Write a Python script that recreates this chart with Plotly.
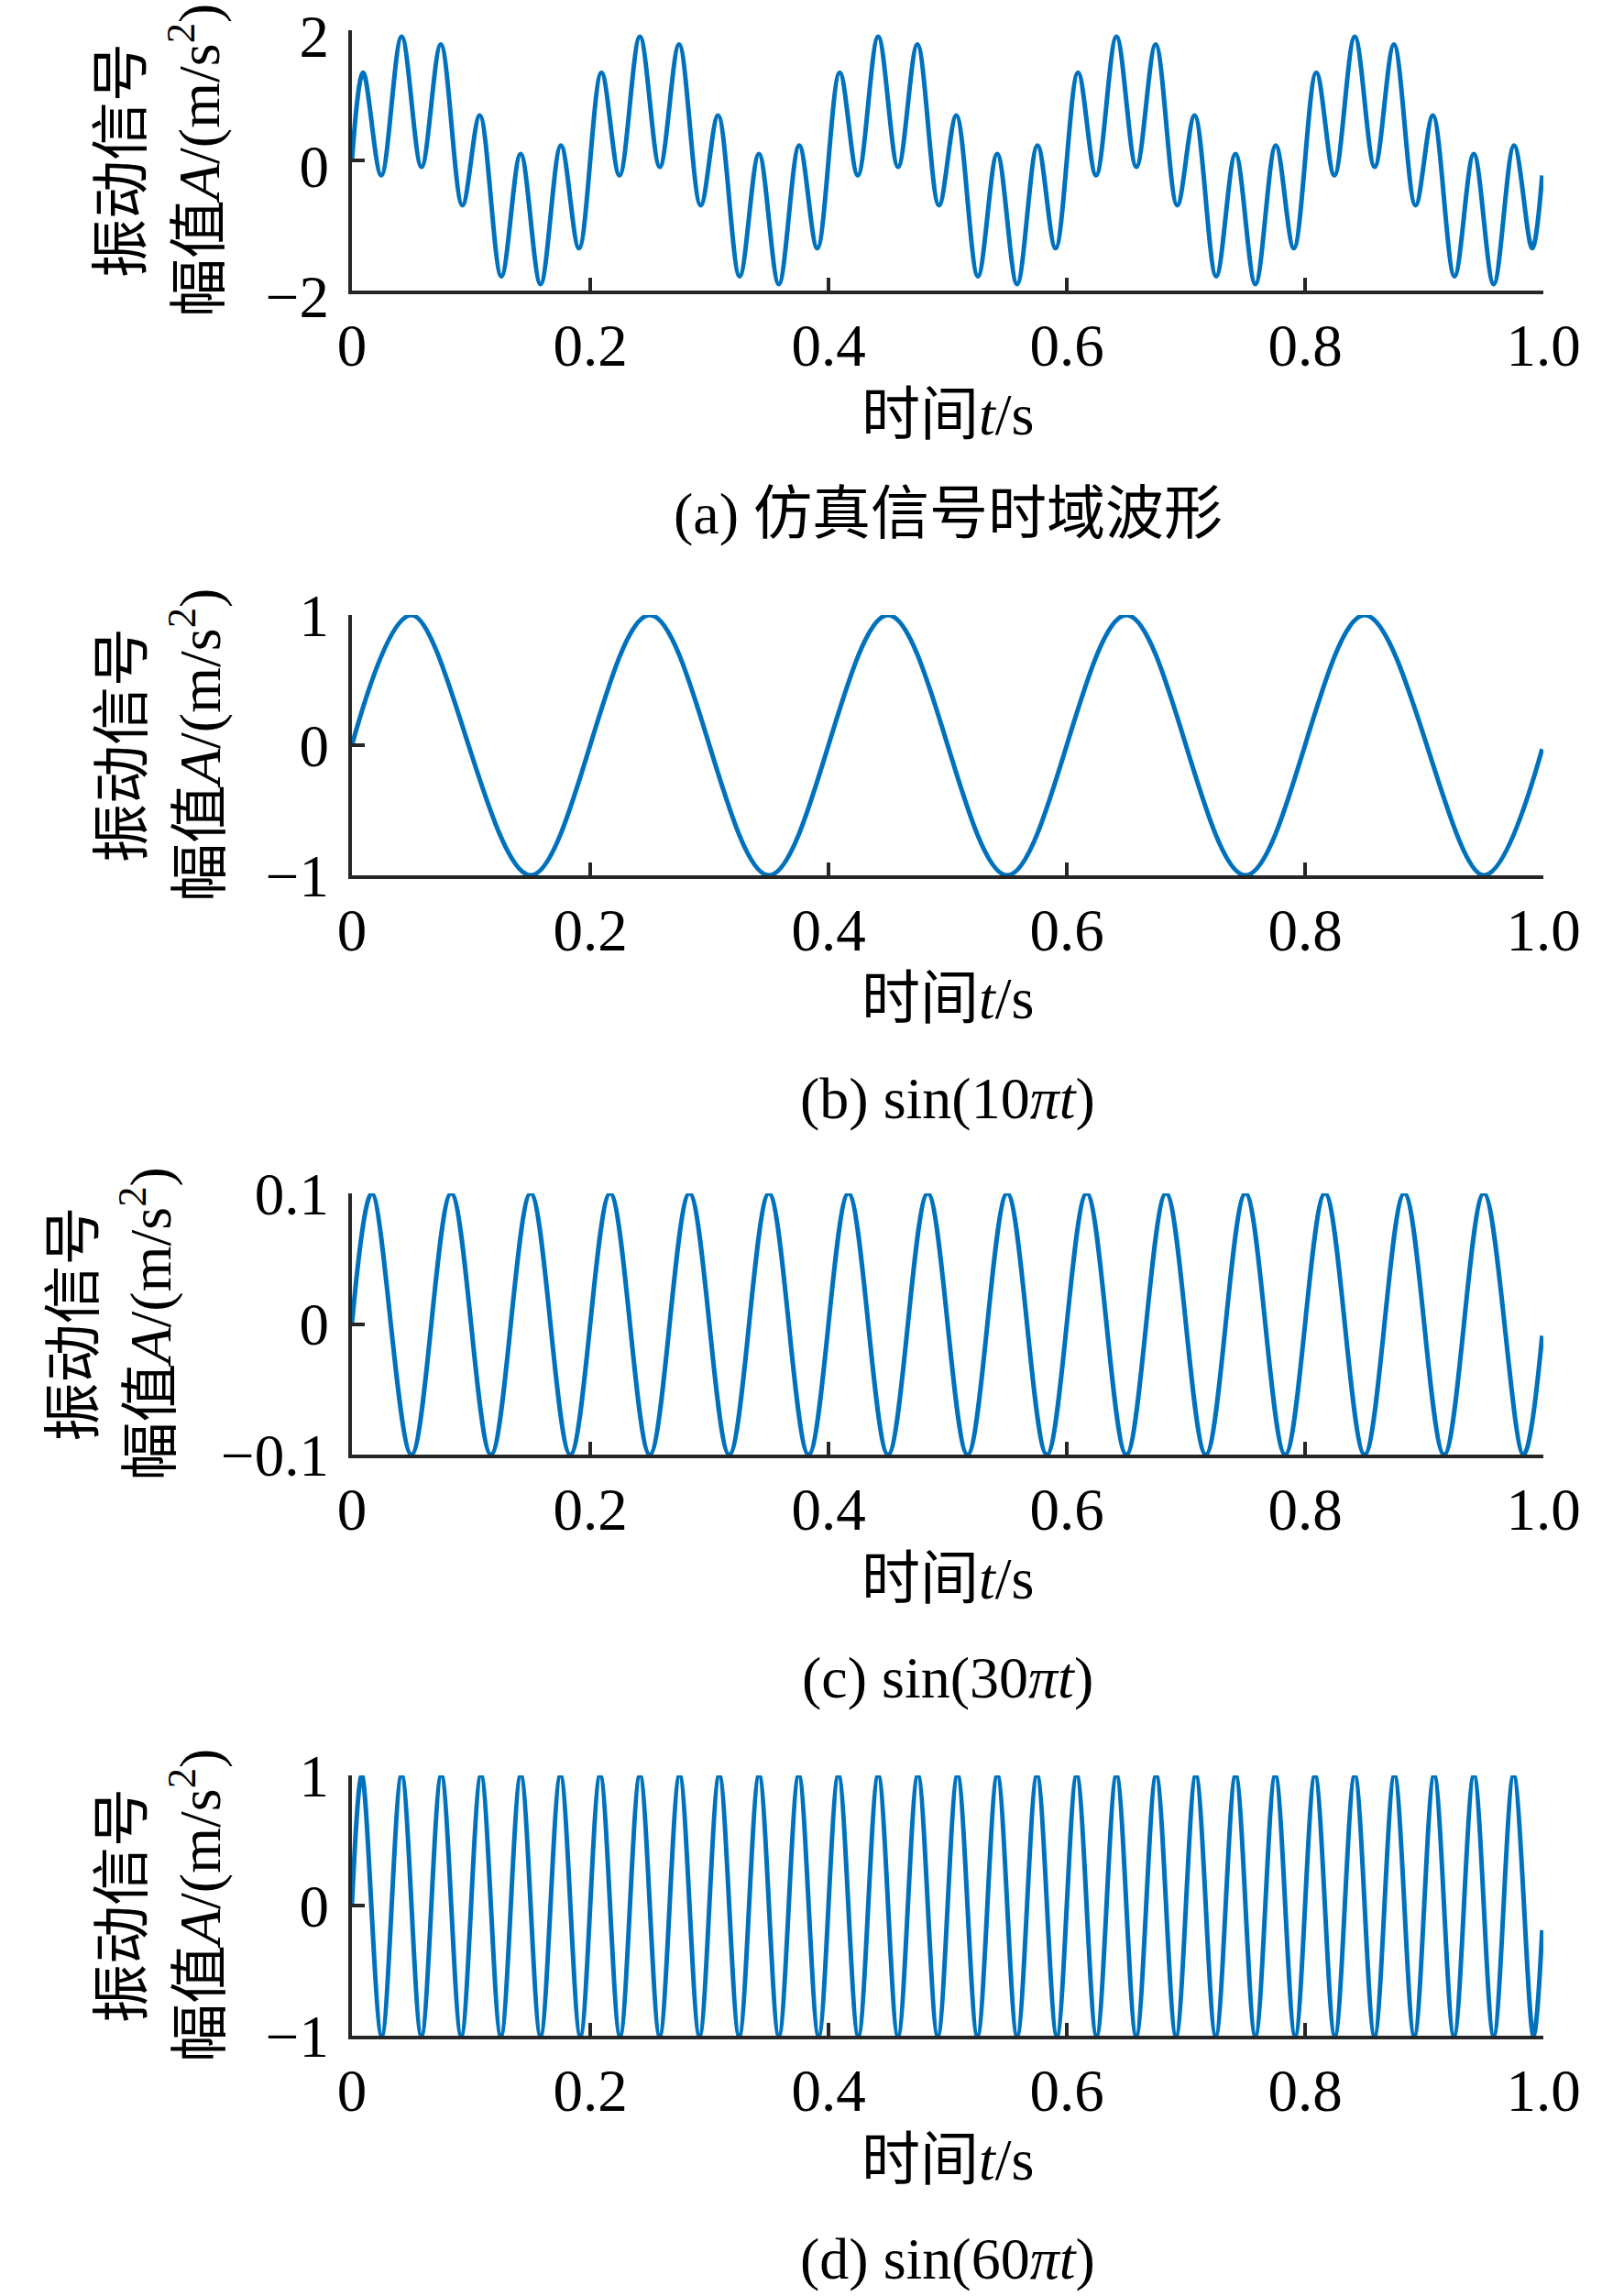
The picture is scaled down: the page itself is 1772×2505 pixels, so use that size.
import plotly.graph_objects as go

# ---- data (extrema of each waveform, plus start/end samples) ----
# (a) simulated signal, time-domain waveform
t_a = [0, 0.0094, 0.0246, 0.0417, 0.0584, 0.0746, 0.0927, 0.1073, 0.1254, 0.1416, 0.1583, 0.1754, 0.1906,
       0.2094, 0.2246, 0.2417, 0.2584, 0.2746, 0.2927, 0.3073, 0.3254, 0.3416, 0.3583, 0.3754, 0.3906,
       0.4094, 0.4246, 0.4417, 0.4584, 0.4746, 0.4927, 0.5073, 0.5254, 0.5416, 0.5583, 0.5754, 0.5906,
       0.6094, 0.6246, 0.6417, 0.6584, 0.6746, 0.6927, 0.7073, 0.7254, 0.7416, 0.7583, 0.7754, 0.7906,
       0.8094, 0.8246, 0.8417, 0.8584, 0.8746, 0.8927, 0.9073, 0.9254, 0.9416, 0.9583, 0.9754, 0.9906,
       0.999]
y_a = [0, 1.35, -0.23, 1.90, -0.10, 1.78, -0.69, 0.69, -1.78, 0.10, -1.90, 0.23, -1.35,
       1.35, -0.23, 1.90, -0.10, 1.78, -0.69, 0.69, -1.78, 0.10, -1.90, 0.23, -1.35,
       1.35, -0.23, 1.90, -0.10, 1.78, -0.69, 0.69, -1.78, 0.10, -1.90, 0.23, -1.35,
       1.35, -0.23, 1.90, -0.10, 1.78, -0.69, 0.69, -1.78, 0.10, -1.90, 0.23, -1.35,
       1.35, -0.23, 1.90, -0.10, 1.78, -0.69, 0.69, -1.78, 0.10, -1.90, 0.23, -1.35,
       -0.23]

# (b) sin(10πt)
t_b = [0, 0.05, 0.15, 0.25, 0.35, 0.45, 0.55, 0.65, 0.75, 0.85, 0.95, 0.999]
y_b = [0, 1, -1, 1, -1, 1, -1, 1, -1, 1, -1, -0.03]

# (c) sin(30πt), amplitude 0.1
t_c = [0, 0.0167, 0.05, 0.0833, 0.1167, 0.15, 0.1833, 0.2167, 0.25, 0.2833, 0.3167,
       0.35, 0.3833, 0.4167, 0.45, 0.4833, 0.5167, 0.55, 0.5833, 0.6167, 0.65,
       0.6833, 0.7167, 0.75, 0.7833, 0.8167, 0.85, 0.8833, 0.9167, 0.95, 0.9833, 0.999]
y_c = [0, 0.1, -0.1, 0.1, -0.1, 0.1, -0.1, 0.1, -0.1, 0.1, -0.1,
       0.1, -0.1, 0.1, -0.1, 0.1, -0.1, 0.1, -0.1, 0.1, -0.1,
       0.1, -0.1, 0.1, -0.1, 0.1, -0.1, 0.1, -0.1, 0.1, -0.1, -0.009]

# (d) sin(60πt)
t_d = [0, 0.0083, 0.025, 0.0417, 0.0583, 0.075, 0.0917, 0.1083, 0.125, 0.1417, 0.1583,
       0.175, 0.1917, 0.2083, 0.225, 0.2417, 0.2583, 0.275, 0.2917, 0.3083, 0.325,
       0.3417, 0.3583, 0.375, 0.3917, 0.4083, 0.425, 0.4417, 0.4583, 0.475, 0.4917,
       0.5083, 0.525, 0.5417, 0.5583, 0.575, 0.5917, 0.6083, 0.625, 0.6417, 0.6583,
       0.675, 0.6917, 0.7083, 0.725, 0.7417, 0.7583, 0.775, 0.7917, 0.8083, 0.825,
       0.8417, 0.8583, 0.875, 0.8917, 0.9083, 0.925, 0.9417, 0.9583, 0.975, 0.9917, 0.999]
y_d = [0, 1, -1, 1, -1, 1, -1, 1, -1, 1, -1,
       1, -1, 1, -1, 1, -1, 1, -1, 1, -1,
       1, -1, 1, -1, 1, -1, 1, -1, 1, -1,
       1, -1, 1, -1, 1, -1, 1, -1, 1, -1,
       1, -1, 1, -1, 1, -1, 1, -1, 1, -1,
       1, -1, 1, -1, 1, -1, 1, -1, 1, -1, -0.19]

x_ticks = [0, 0.2, 0.4, 0.6, 0.8, 1.0]
x_ticktext = ["0", "0.2", "0.4", "0.6", "0.8", "1.0"]

y_ticks_a = [-2, 0, 2]
y_ticktext_a = ["\u22122", "0", "2"]
y_ticks_b = [-1, 0, 1]
y_ticktext_b = ["\u22121", "0", "1"]
y_ticks_c = [-0.1, 0, 0.1]
y_ticktext_c = ["\u22120.1", "0", "0.1"]
y_ticks_d = [-1, 0, 1]
y_ticktext_d = ["\u22121", "0", "1"]

captions = [
    "(a) 仿真信号时域波形",
    "(b) sin(10<i>πt</i>)",
    "(c) sin(30<i>πt</i>)",
    "(d) sin(60<i>πt</i>)",
]

LINE_BLUE = "#0072BD"
AXIS_GRAY = "#262626"
FONT = "Times New Roman, Liberation Serif, Noto Sans CJK SC, serif"

W, H = 1772, 2505

# pixel boxes of each panel (top, bottom) in the 1772x2505 canvas
panels = [
    dict(t=t_a, y=y_a, top=33, bot=317, rng=[-2, 2], tv=y_ticks_a, tt=y_ticktext_a,
         ylab_x=(133, 213), shift=6),
    dict(t=t_b, y=y_b, top=671, bot=955, rng=[-1, 1], tv=y_ticks_b, tt=y_ticktext_b,
         ylab_x=(133, 213), shift=0),
    dict(t=t_c, y=y_c, top=1302, bot=1587, rng=[-0.1, 0.1], tv=y_ticks_c, tt=y_ticktext_c,
         ylab_x=(80, 160), shift=0),
    dict(t=t_d, y=y_d, top=1937, bot=2221, rng=[-1, 1], tv=y_ticks_d, tt=y_ticktext_d,
         ylab_x=(133, 213), shift=0),
]

X0, X1 = 384, 1684
x_dom = [X0 / W, X1 / W]
x_mid = (X0 + X1) / 2 / W


def py(px):
    """pixel row -> paper y"""
    return 1 - px / H


fig = go.Figure()
annotations = []
layout = {}

for i, p in enumerate(panels):
    n = "" if i == 0 else str(i + 1)
    fig.add_trace(go.Scatter(
        x=p["t"], y=p["y"],
        mode="lines",
        line=dict(color=LINE_BLUE, width=5, shape="spline", smoothing=1),
        xaxis="x" + n, yaxis="y" + n,
        cliponaxis=False,
        showlegend=False,
        hoverinfo="skip",
    ))

    common = dict(
        showline=True, linecolor=AXIS_GRAY, linewidth=4, mirror=False,
        ticks="inside", ticklen=14, tickwidth=4, tickcolor=AXIS_GRAY,
        showgrid=False, zeroline=False, automargin=False,
        ticklabeloverflow="allow",
        tickfont=dict(family=FONT, size=65, color="black"),
    )
    layout["xaxis" + n] = dict(
        common, domain=x_dom, range=[0, 1], anchor="y" + n,
        tickmode="array", tickvals=x_ticks, ticktext=x_ticktext,
        ticklabelstandoff=0,
    )
    layout["yaxis" + n] = dict(
        common, domain=[py(p["bot"]), py(p["top"])], range=p["rng"], anchor="x" + n,
        tickmode="array", tickvals=p["tv"], ticktext=p["tt"],
        ticklabelstandoff=8, ticklabelshift=p["shift"],
    )

    ymid = py((p["top"] + p["bot"]) / 2)
    # y-axis title, two rotated lines
    annotations.append(dict(
        text="振动信号", x=p["ylab_x"][0] / W, y=ymid, xref="paper", yref="paper",
        textangle=-90, showarrow=False, xanchor="center", yanchor="middle",
        font=dict(family=FONT, size=64, color="black"),
    ))
    annotations.append(dict(
        text="幅值<i>A</i>/(m/s<sup>2</sup>)", x=p["ylab_x"][1] / W, y=ymid,
        xref="paper", yref="paper",
        textangle=-90, showarrow=False, xanchor="center", yanchor="middle",
        font=dict(family=FONT, size=64, color="black"),
    ))
    # x-axis title
    annotations.append(dict(
        text="时间<i>t</i>/s", x=x_mid, y=py(p["bot"] + 135), xref="paper", yref="paper",
        showarrow=False, xanchor="center", yanchor="middle",
        font=dict(family=FONT, size=64, color="black"),
    ))
    # panel caption
    annotations.append(dict(
        text=captions[i], x=x_mid, y=py(p["bot"] + 243), xref="paper", yref="paper",
        showarrow=False, xanchor="center", yanchor="middle",
        font=dict(family=FONT, size=64, color="black"),
    ))

fig.update_layout(
    width=W, height=H,
    autosize=False,
    margin=dict(l=0, r=0, t=0, b=0, pad=0),
    paper_bgcolor="white", plot_bgcolor="white",
    font=dict(family=FONT, color="black"),
    annotations=annotations,
    **layout,
)

fig.write_html(
    "out.html",
    config={"displayModeBar": False},
    post_script="document.body.style.margin='0';document.body.style.overflow='hidden';",
)
